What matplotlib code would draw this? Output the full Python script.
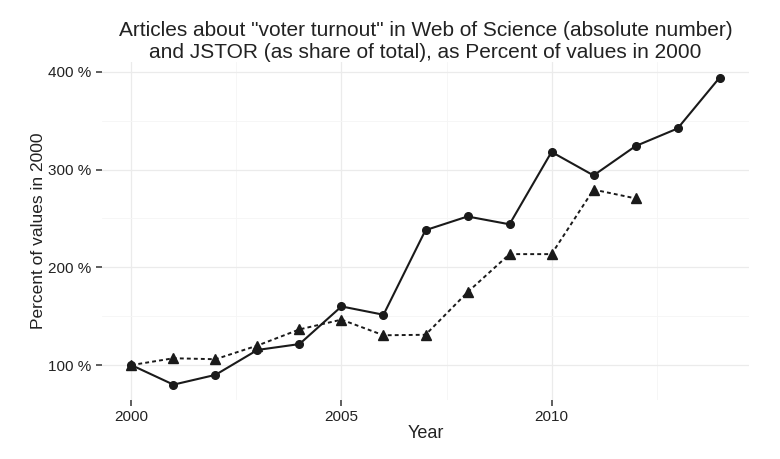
import numpy as np
import matplotlib.pyplot as plt
from matplotlib.ticker import FuncFormatter, MultipleLocator

plt.rcParams['font.family'] = ['Liberation Sans', 'DejaVu Sans']

# Web of Science (absolute number), % of 2000
wos_years = [2000, 2001, 2002, 2003, 2004, 2005, 2006, 2007,
             2008, 2009, 2010, 2011, 2012, 2013, 2014]
wos_pct = [100, 80, 90, 115.5, 121.5, 160, 151.5, 238,
           252, 244, 318, 294, 324, 342, 394]

# JSTOR (share of total), % of 2000
jstor_years = [2000, 2001, 2002, 2003, 2004, 2005, 2006,
               2007, 2008, 2009, 2010, 2011, 2012]
jstor_pct = [100, 107, 106, 120, 136.5, 146.5, 130.5,
             131, 174.5, 213.5, 213.5, 279.5, 270.5]

txt = '#222222'

fig = plt.figure(figsize=(7.8, 4.59), dpi=100)
ax = fig.add_axes([102/780, 1 - 400/459, (749-102)/780, (400-62)/459])

ax.plot(wos_years, wos_pct, color='#1a1a1a', lw=1.5, marker='o', ms=5.5, zorder=3)
ax.plot(jstor_years, jstor_pct, color='#1a1a1a', lw=1.4, ls=(0, (2, 1.6)),
        marker='^', ms=6.5, zorder=3)

ax.set_xlim(1999.3, 2014.7)
ax.set_ylim(64.3, 410)
ax.xaxis.set_major_locator(MultipleLocator(5))
ax.xaxis.set_minor_locator(MultipleLocator(2.5))
ax.yaxis.set_major_locator(MultipleLocator(100))
ax.yaxis.set_minor_locator(MultipleLocator(50))
ax.yaxis.set_major_formatter(FuncFormatter(lambda v, p: '%d %%' % v))

ax.grid(which='major', color='#ebebeb', lw=0.9)
ax.grid(which='minor', color='#f5f5f5', lw=0.6)
ax.set_axisbelow(True)
for s in ax.spines.values():
    s.set_visible(False)

ax.tick_params(which='major', length=4, width=1.1, color='#333333',
               labelsize=11, labelcolor=txt)
ax.tick_params(axis='x', pad=3)
ax.tick_params(axis='y', pad=4)
ax.tick_params(which='minor', length=0)

ax.set_xlabel('Year', fontsize=13, color=txt, labelpad=1)
ax.set_ylabel('Percent of values in 2000', fontsize=12.5, color=txt, labelpad=1.5)
ax.set_title('Articles about "voter turnout" in Web of Science (absolute number)\n'
             'and JSTOR (as share of total), as Percent of values in 2000',
             fontsize=15, color=txt, pad=3, linespacing=1.2)

fig.savefig('out.png', dpi=100)
